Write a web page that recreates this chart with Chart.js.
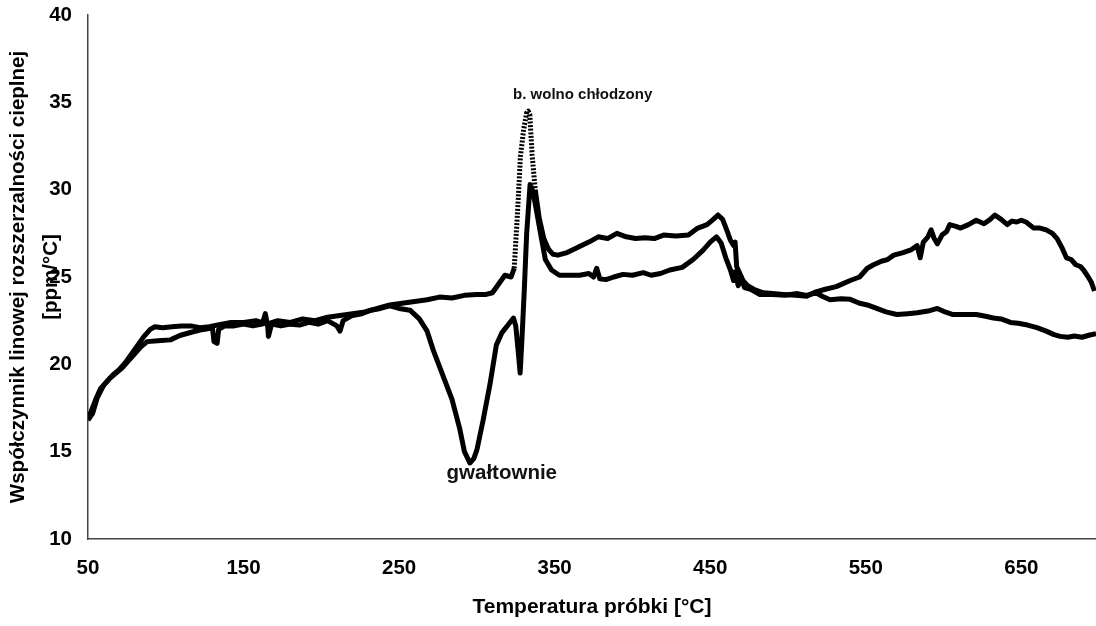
<!DOCTYPE html>
<html>
<head>
<meta charset="utf-8">
<script src="https://cdn.jsdelivr.net/npm/chart.js@4.4.1/dist/chart.umd.min.js"></script>
<style>
  html, body { margin: 0; padding: 0; background: #fff; }
  canvas { display: block; }
</style>
</head>
<body>
<canvas id="chart" width="1096" height="626"></canvas>
<script>
// próbka wolno chłodzona
const tempSlow = [50, 52, 55, 58, 62, 66, 70, 74, 78, 82, 86, 90, 93, 98, 104, 110, 116, 122, 128, 136, 142, 150, 158, 165, 172, 180, 188, 196, 204, 212, 220, 228, 236, 244, 252, 260, 268, 276, 284, 292, 300, 306, 310, 314, 318, 322, 324, 326, 328, 330, 332, 333, 334, 335.5, 337.5, 340, 343, 346, 349, 352, 358, 366, 372, 378, 384, 390, 396, 402, 408, 414, 420, 428, 436, 442, 448, 452, 455, 458, 461, 463, 465, 466, 467, 469, 471, 474, 478, 484, 490, 497, 505, 512, 518, 524, 531, 540, 546, 551, 555, 560, 564, 568, 574, 579, 583, 585, 587, 590, 592, 594, 596, 599, 602, 604, 608, 611, 616, 621, 626, 630, 633, 637, 641, 644, 647, 650, 653, 658, 662, 666, 670, 673, 676, 679, 682, 685, 688, 690, 693, 695, 697];
const valSlow = [16.9, 17.3, 18.0, 18.6, 19.0, 19.4, 19.7, 20.1, 20.6, 21.1, 21.6, 22.0, 22.15, 22.1, 22.15, 22.2, 22.2, 22.1, 22.15, 22.3, 22.4, 22.4, 22.5, 22.3, 22.5, 22.4, 22.6, 22.5, 22.7, 22.8, 22.9, 23.0, 23.2, 23.4, 23.5, 23.6, 23.7, 23.85, 23.8, 23.95, 24.0, 24.0, 24.1, 24.6, 25.1, 25.0, 25.5, 28.5, 31.9, 33.4, 34.4, 34.5, 34.3, 32.0, 30.0, 28.4, 27.2, 26.6, 26.3, 26.25, 26.4, 26.75, 27.0, 27.3, 27.2, 27.5, 27.3, 27.2, 27.25, 27.2, 27.4, 27.35, 27.4, 27.8, 28.0, 28.3, 28.55, 28.3, 27.6, 27.1, 26.8, 27.0, 25.6, 25.2, 24.8, 24.5, 24.3, 24.1, 24.05, 24.0, 23.95, 23.9, 24.15, 24.3, 24.45, 24.8, 25.0, 25.5, 25.7, 25.9, 26.0, 26.25, 26.4, 26.55, 26.8, 26.1, 27.0, 27.3, 27.7, 27.2, 26.9, 27.4, 27.6, 28.0, 27.9, 27.8, 28.0, 28.25, 28.05, 28.3, 28.55, 28.3, 28.0, 28.2, 28.15, 28.25, 28.15, 27.8, 27.8, 27.7, 27.5, 27.2, 26.7, 26.1, 26.0, 25.7, 25.6, 25.4, 25.0, 24.7, 24.2];

// próbka chłodzona gwałtownie
const tempFast = [50, 53, 56, 60, 64, 68, 72, 76, 80, 84, 88, 95, 103, 109, 117, 124, 128, 130, 131, 133, 134, 138, 144, 150, 156, 162, 164, 165.5, 166, 168, 174, 180, 186, 192, 198, 204, 210, 212, 214, 220, 226, 232, 238, 244, 250, 257, 263, 268, 272, 278, 284, 289, 292, 295.5, 298, 300, 304, 308.5, 312.5, 316, 320, 323.5, 325, 326.5, 327.8, 329, 330.5, 332, 334.2, 336, 337.5, 340.5, 344, 348, 353, 360, 366, 372, 375, 377, 379, 383, 388, 394, 400, 407, 412, 418, 424, 432, 439, 445, 450, 454, 457, 460, 463, 465, 466, 468, 470, 472, 476, 482, 490, 498, 506, 512, 518, 522, 527, 534, 540, 546, 551, 557, 563, 570, 577, 583, 590, 596, 601, 606, 613, 621, 627, 632, 637, 643, 648, 654, 660, 666, 671, 675, 680, 684, 689, 694, 698];
const valFast = [16.8, 17.2, 18.1, 18.8, 19.2, 19.5, 19.8, 20.2, 20.6, 21.0, 21.3, 21.35, 21.4, 21.65, 21.85, 22.0, 22.05, 22.1, 21.3, 21.2, 22.0, 22.2, 22.2, 22.3, 22.2, 22.3, 22.9, 22.2, 21.6, 22.3, 22.2, 22.3, 22.25, 22.4, 22.3, 22.5, 22.2, 21.9, 22.5, 22.8, 22.9, 23.1, 23.2, 23.35, 23.2, 23.1, 22.6, 21.9, 20.8, 19.4, 18.0, 16.3, 15.0, 14.35, 14.6, 15.1, 16.8, 18.9, 21.1, 21.8, 22.25, 22.65, 22.2, 20.8, 19.5, 21.5, 24.3, 27.5, 30.3, 29.9, 29.2, 27.7, 26.0, 25.4, 25.1, 25.1, 25.1, 25.2, 25.0, 25.5, 24.9, 24.85, 25.0, 25.15, 25.1, 25.25, 25.1, 25.2, 25.4, 25.55, 26.0, 26.5, 27.0, 27.3, 26.95, 26.1, 25.4, 24.8, 25.3, 24.5, 25.0, 24.4, 24.3, 24.0, 24.0, 23.95, 24.05, 23.95, 24.1, 23.9, 23.7, 23.75, 23.72, 23.5, 23.4, 23.2, 23.0, 22.85, 22.9, 22.95, 23.05, 23.2, 23.0, 22.85, 22.85, 22.85, 22.75, 22.65, 22.6, 22.4, 22.35, 22.25, 22.1, 21.9, 21.7, 21.6, 21.55, 21.62, 21.55, 21.68, 21.75];

const xTicks = [50, 150, 250, 350, 450, 550, 650];
const yTicks = [10, 15, 20, 25, 30, 35, 40];

const xTitle = 'Temperatura próbki [°C]';
const yTitle = ['Współczynnik linowej rozszerzalności cieplnej', '[ppm/°C]'];

// podpisy krzywych, zakotwiczone w jednostkach osi
const notes = [
    { text: 'b. wolno chłodzony', x: 368, y: 35.4, font: 'bold 15px "Liberation Sans", Arial, sans-serif' },
    { text: 'gwałtownie', x: 316, y: 13.75, font: 'bold 20.5px "Liberation Sans", Arial, sans-serif' }
];

const axisColor = '#444';
const fontFamily = '"Liberation Sans", Arial, sans-serif';

function toPoints(xs, ys) {
    return xs.map((x, i) => ({ x: x, y: ys[i] }));
}

// stroma część krzywej wygląda na kropkowaną
function steepDash(ctx) {
    const a = ctx.p0.parsed.x, b = ctx.p1.parsed.x;
    return (a >= 324 && b <= 337.5) ? [2, 1.6] : undefined;
}

const notesPlugin = {
    id: 'notes',
    afterDatasetsDraw(chart) {
        const c = chart.ctx;
        const xs = chart.scales.x, ys = chart.scales.y;
        c.save();
        c.fillStyle = '#111';
        c.textAlign = 'center';
        c.textBaseline = 'middle';
        notes.forEach(n => {
            c.font = n.font;
            c.fillText(n.text, xs.getPixelForValue(n.x), ys.getPixelForValue(n.y));
        });
        c.restore();
    }
};

new Chart(document.getElementById('chart'), {
    type: 'line',
    data: {
        datasets: [
            {
                label: 'wolno chłodzony',
                data: toPoints(tempSlow, valSlow),
                borderColor: '#000',
                borderWidth: 5,
                borderJoinStyle: 'round',
                pointRadius: 0,
                tension: 0,
                segment: { borderDash: steepDash }
            },
            {
                label: 'gwałtownie',
                data: toPoints(tempFast, valFast),
                borderColor: '#000',
                borderWidth: 5,
                borderJoinStyle: 'round',
                pointRadius: 0,
                tension: 0
            }
        ]
    },
    options: {
        responsive: false,
        animation: false,
        devicePixelRatio: 1,
        layout: { padding: { top: 15, right: 0, bottom: 0, left: 0 } },
        plugins: {
            legend: { display: false },
            tooltip: { enabled: false }
        },
        scales: {
            x: {
                type: 'linear',
                min: 50,
                max: 698,
                afterBuildTicks: axis => { axis.ticks = xTicks.map(v => ({ value: v })); },
                afterFit: axis => { axis.height = 87; axis.paddingLeft = 0; axis.paddingRight = 0; },
                border: { color: axisColor, width: 1.5 },
                grid: { display: false, drawOnChartArea: false, drawTicks: true, tickLength: 6, color: axisColor },
                ticks: {
                    color: '#000',
                    padding: 11,
                    maxRotation: 0,
                    font: { family: fontFamily, size: 20.5, weight: 'bold' }
                },
                title: {
                    display: true,
                    text: xTitle,
                    color: '#000',
                    padding: { top: 0, bottom: 6 },
                    font: { family: fontFamily, size: 21, weight: 'bold' }
                }
            },
            y: {
                min: 10,
                max: 40,
                afterBuildTicks: axis => { axis.ticks = yTicks.map(v => ({ value: v })); },
                afterFit: axis => { axis.width = 88; axis.paddingTop = 0; axis.paddingBottom = 0; },
                border: { color: axisColor, width: 1.5 },
                grid: { display: false, drawOnChartArea: false, drawTicks: true, tickLength: 6, color: axisColor },
                ticks: {
                    color: '#000',
                    padding: 10,
                    font: { family: fontFamily, size: 20.5, weight: 'bold' }
                },
                title: {
                    display: true,
                    text: yTitle,
                    color: '#000',
                    padding: { top: 1, bottom: 0 },
                    font: { family: fontFamily, size: 20.5, weight: 'bold', lineHeight: 1.65 }
                }
            }
        }
    },
    plugins: [notesPlugin]
});
</script>
</body>
</html>
